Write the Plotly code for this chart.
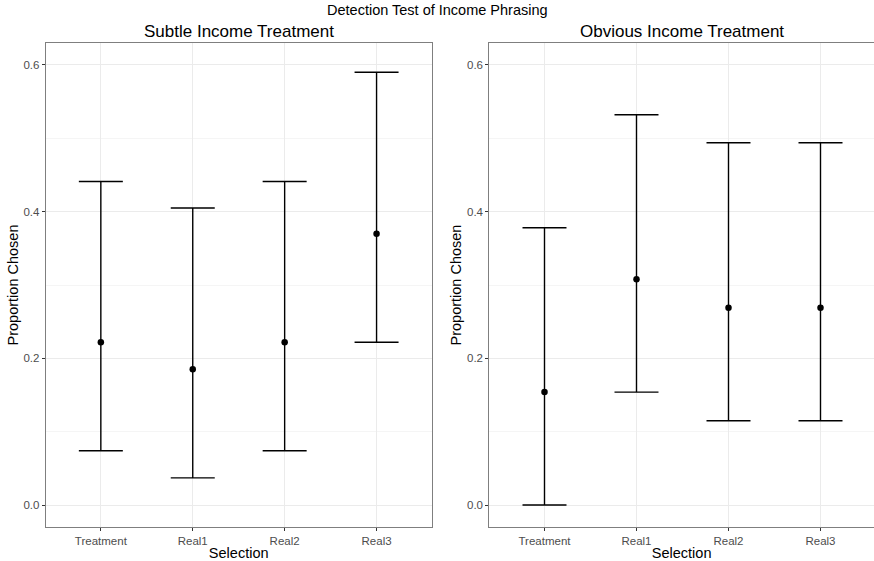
import plotly.graph_objects as go

# Proportion of respondents choosing each option, with interval bounds
selections = ["Treatment", "Real1", "Real2", "Real3"]

subtle_prop = [0.222, 0.185, 0.222, 0.370]
subtle_lower = [0.074, 0.037, 0.074, 0.222]
subtle_upper = [0.441, 0.405, 0.441, 0.590]

obvious_prop = [0.154, 0.308, 0.269, 0.269]
obvious_lower = [0.000, 0.154, 0.115, 0.115]
obvious_upper = [0.378, 0.532, 0.494, 0.494]

panel_titles = ["Subtle Income Treatment", "Obvious Income Treatment"]

FONT = "Liberation Sans, Arial, sans-serif"
W, H = 874, 561

fig = go.Figure()


def add_panel(prop, lower, upper, xref, yref):
    fig.add_trace(go.Scatter(
        x=selections,
        y=prop,
        mode="markers",
        marker=dict(color="black", size=6.5),
        error_y=dict(
            type="data",
            symmetric=False,
            array=[u - p for u, p in zip(upper, prop)],
            arrayminus=[p - l for p, l in zip(prop, lower)],
            color="black",
            thickness=1.4,
            width=22,
        ),
        xaxis=xref,
        yaxis=yref,
        showlegend=False,
        cliponaxis=False,
    ))


add_panel(subtle_prop, subtle_lower, subtle_upper, "x", "y")
add_panel(obvious_prop, obvious_lower, obvious_upper, "x2", "y2")

# panel geometry in pixels
left_dom = [45.7 / W, 431.7 / W]
right_dom = [489.3 / W, 1.0]
y_dom = [(H - 526.7) / H, (H - 43.3) / H]

tick_font = dict(family=FONT, size=11.5, color="#4d4d4d")
title_font = dict(family=FONT, size=14.5, color="black")

xaxis_common = dict(
    type="category",
    categoryorder="array",
    categoryarray=selections,
    showgrid=True,
    gridcolor="#ebebeb",
    gridwidth=1,
    showline=True,
    linecolor="#7f7f7f",
    linewidth=1,
    mirror=True,
    ticks="outside",
    ticklen=3,
    tickcolor="#333333",
    tickfont=tick_font,
    zeroline=False,
    title=dict(text="Selection", font=title_font, standoff=4),
)

yaxis_common = dict(
    range=[-0.0295, 0.6295],
    tickvals=[0.0, 0.2, 0.4, 0.6],
    ticktext=["0.0", "0.2", "0.4", "0.6"],
    showgrid=True,
    gridcolor="#ebebeb",
    gridwidth=1,
    minor=dict(tickvals=[0.1, 0.3, 0.5], showgrid=True, gridcolor="#f5f5f5", gridwidth=1),
    showline=True,
    linecolor="#7f7f7f",
    linewidth=1,
    mirror=True,
    ticks="outside",
    ticklen=3,
    tickcolor="#333333",
    tickfont=tick_font,
    zeroline=False,
    title=dict(text="Proportion Chosen", font=title_font, standoff=1),
    domain=y_dom,
)

fig.update_layout(
    width=W,
    height=H,
    margin=dict(l=0, r=0, t=0, b=0),
    paper_bgcolor="white",
    plot_bgcolor="white",
    font=dict(family=FONT),
    xaxis=dict(xaxis_common, domain=left_dom, range=[-0.6, 3.6], anchor="y"),
    yaxis=dict(yaxis_common, anchor="x"),
    xaxis2=dict(xaxis_common, domain=right_dom, range=[-0.6, -0.6 + (W - 489.3) / 92.0], anchor="y2"),
    yaxis2=dict(yaxis_common, anchor="x2"),
    annotations=[
        dict(text="Detection Test of Income Phrasing", x=0.5, y=(H - 10) / H,
             xref="paper", yref="paper", showarrow=False, xanchor="center",
             font=dict(family=FONT, size=14.5, color="black"), yanchor="middle"),
        dict(text=panel_titles[0], x=sum(left_dom) / 2, y=(H - 31) / H,
             xref="paper", yref="paper", showarrow=False, xanchor="center",
             font=dict(family=FONT, size=17, color="black"), yanchor="middle"),
        dict(text=panel_titles[1], x=(489.3 + 875.5) / 2 / W, y=(H - 31) / H,
             xref="paper", yref="paper", showarrow=False, xanchor="center",
             font=dict(family=FONT, size=17, color="black"), yanchor="middle"),
    ],
)

fig.write_html("out.html")
